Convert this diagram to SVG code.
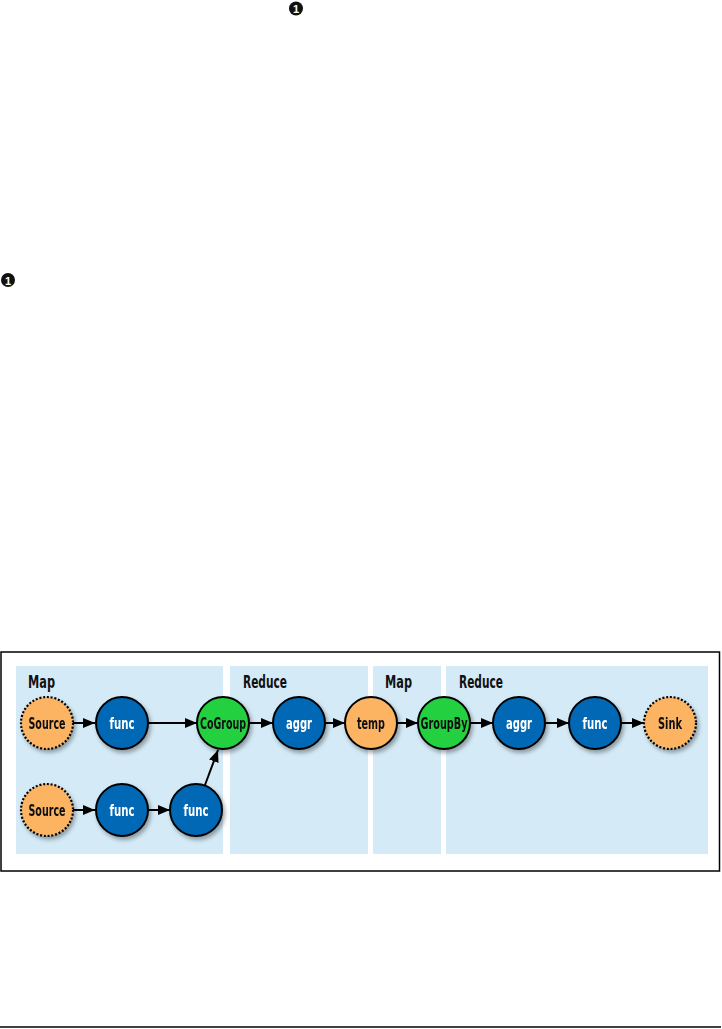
<svg xmlns="http://www.w3.org/2000/svg" width="722" height="1029" viewBox="0 0 722 1029">
<style>
.panel{fill:#d4ebf7}
.lbl{font-family:"DejaVu Sans Condensed","Liberation Sans",sans-serif;font-weight:bold;font-size:17px;fill:#111}
.node{stroke:#000;stroke-width:2}
.dot{stroke-dasharray:2 1.8;stroke-width:2.2}
.orange{fill:#fcb463}
.blue{fill:#0468b4}
.green{fill:#24d03f}
.nt{font-family:"DejaVu Sans Condensed","Liberation Sans",sans-serif;font-weight:bold;font-size:16px;text-anchor:middle;dominant-baseline:central}
.dk{fill:#111}
.wt{fill:#fff}
.edge{stroke:#000;stroke-width:2;fill:none;marker-end:url(#ah)}
.badge{fill:#111}
.bt{font-family:"Liberation Sans","DejaVu Sans",sans-serif;font-weight:bold;font-size:11px;fill:#fff;text-anchor:middle;dominant-baseline:central}
</style>
<defs>
<marker id="ah" viewBox="0 0 12 10" refX="12" refY="5" markerWidth="12" markerHeight="10" markerUnits="userSpaceOnUse" orient="auto">
<path d="M0,0 L12,5 L0,10 z" fill="#000"/>
</marker>
<filter id="sh" x="-30%" y="-30%" width="170%" height="170%">
<feDropShadow dx="2" dy="3" stdDeviation="2" flood-color="#000" flood-opacity="0.35"/>
</filter>
</defs>
<rect width="722" height="1029" fill="#fff"/>
<g id="badge1"><circle class="badge" cx="296" cy="8.5" r="7"/><text class="bt" x="296" y="9">1</text></g>
<g id="badge2"><circle class="badge" cx="8" cy="280" r="7"/><text class="bt" x="8" y="280.5">1</text></g>
<g id="frame"><rect x="1" y="652" width="718.5" height="219" fill="none" stroke="#000" stroke-width="1.5"/></g>
<g id="panels">
<rect class="panel" x="16" y="666" width="207" height="188"/>
<rect class="panel" x="230" y="666" width="138" height="188"/>
<rect class="panel" x="373" y="666" width="68" height="188"/>
<rect class="panel" x="446" y="666" width="262" height="188"/>
<text class="lbl" x="28" y="688" textLength="27" lengthAdjust="spacingAndGlyphs">Map</text>
<text class="lbl" x="243" y="688" textLength="44" lengthAdjust="spacingAndGlyphs">Reduce</text>
<text class="lbl" x="385" y="688" textLength="27" lengthAdjust="spacingAndGlyphs">Map</text>
<text class="lbl" x="459" y="688" textLength="44" lengthAdjust="spacingAndGlyphs">Reduce</text>
</g>
<g id="connectors">
<line class="edge" x1="73" y1="723" x2="95" y2="723"/>
<line class="edge" x1="148" y1="723" x2="197" y2="723"/>
<line class="edge" x1="249" y1="723" x2="273" y2="723"/>
<line class="edge" x1="325" y1="723" x2="345" y2="723"/>
<line class="edge" x1="397" y1="723" x2="418" y2="723"/>
<line class="edge" x1="470" y1="723" x2="493" y2="723"/>
<line class="edge" x1="545" y1="723" x2="569" y2="723"/>
<line class="edge" x1="621" y1="723" x2="644" y2="723"/>
<line class="edge" x1="73" y1="810" x2="95" y2="810"/>
<line class="edge" x1="148" y1="810" x2="170" y2="810"/>
<line class="edge" x1="205" y1="785" x2="218" y2="750"/>
</g>
<g id="source1" filter="url(#sh)"><circle class="node dot orange" cx="47" cy="723" r="26"/><text class="nt dk" x="47" y="723" textLength="37" lengthAdjust="spacingAndGlyphs">Source</text></g>
<g id="func1" filter="url(#sh)"><circle class="node blue" cx="122" cy="723" r="26"/><text class="nt wt" x="122" y="723" textLength="25" lengthAdjust="spacingAndGlyphs">func</text></g>
<g id="cogroup" filter="url(#sh)"><circle class="node green" cx="223" cy="723" r="26"/><text class="nt dk" x="223" y="723" textLength="46" lengthAdjust="spacingAndGlyphs">CoGroup</text></g>
<g id="aggr1" filter="url(#sh)"><circle class="node blue" cx="299" cy="723" r="26"/><text class="nt wt" x="299" y="723" textLength="26" lengthAdjust="spacingAndGlyphs">aggr</text></g>
<g id="temp" filter="url(#sh)"><circle class="node orange" cx="371" cy="723" r="26"/><text class="nt dk" x="371" y="723" textLength="28" lengthAdjust="spacingAndGlyphs">temp</text></g>
<g id="groupby" filter="url(#sh)"><circle class="node green" cx="444" cy="723" r="26"/><text class="nt dk" x="444" y="723" textLength="47" lengthAdjust="spacingAndGlyphs">GroupBy</text></g>
<g id="aggr2" filter="url(#sh)"><circle class="node blue" cx="519" cy="723" r="26"/><text class="nt wt" x="519" y="723" textLength="26" lengthAdjust="spacingAndGlyphs">aggr</text></g>
<g id="func4" filter="url(#sh)"><circle class="node blue" cx="595" cy="723" r="26"/><text class="nt wt" x="595" y="723" textLength="25" lengthAdjust="spacingAndGlyphs">func</text></g>
<g id="sink" filter="url(#sh)"><circle class="node dot orange" cx="670" cy="723" r="26"/><text class="nt dk" x="670" y="723" textLength="24" lengthAdjust="spacingAndGlyphs">Sink</text></g>
<g id="source2" filter="url(#sh)"><circle class="node dot orange" cx="47" cy="810" r="26"/><text class="nt dk" x="47" y="810" textLength="37" lengthAdjust="spacingAndGlyphs">Source</text></g>
<g id="func2" filter="url(#sh)"><circle class="node blue" cx="122" cy="810" r="26"/><text class="nt wt" x="122" y="810" textLength="25" lengthAdjust="spacingAndGlyphs">func</text></g>
<g id="func3" filter="url(#sh)"><circle class="node blue" cx="196" cy="810" r="26"/><text class="nt wt" x="196" y="810" textLength="25" lengthAdjust="spacingAndGlyphs">func</text></g>
<g id="rule"><line x1="0" y1="1027" x2="721" y2="1027" stroke="#000" stroke-width="1.5"/></g>
</svg>
